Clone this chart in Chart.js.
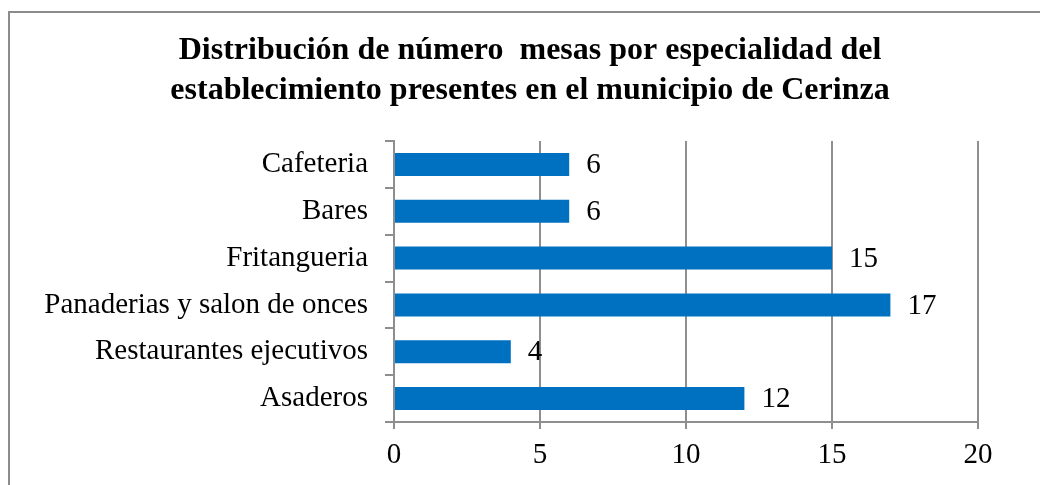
<!DOCTYPE html>
<html>
<head>
<meta charset="utf-8">
<script src="https://cdn.jsdelivr.net/npm/chart.js@4/dist/chart.umd.min.js"></script>
<style>
  html, body { margin: 0; padding: 0; background: #ffffff; }
  #wrap { position: relative; width: 1040px; height: 485px; }
</style>
</head>
<body>
<div id="wrap"><canvas id="c" width="1040" height="485"></canvas></div>
<script>
const categories = ['Cafeteria', 'Bares', 'Fritangueria', 'Panaderias y salon de onces', 'Restaurantes ejecutivos', 'Asaderos'];
const values = [6, 6, 15, 17, 4, 12];
const titleLines = ['Distribución de número  mesas por especialidad del', 'establecimiento presentes en el municipio de Cerinza'];
const xTicks = [0, 5, 10, 15, 20];

const FONT = "'Liberation Serif', 'Times New Roman', serif";
const GRID = '#8e8e8e';

const framePlugin = {
  id: 'frame',
  beforeDraw(chart) {
    const ctx = chart.ctx;
    ctx.save();
    ctx.fillStyle = '#ffffff';
    ctx.fillRect(0, 0, chart.width, chart.height);
    ctx.strokeStyle = '#8c8c8c';
    ctx.lineWidth = 2;
    ctx.beginPath();
    ctx.moveTo(9, 485);
    ctx.lineTo(9, 12);
    ctx.lineTo(1040, 12);
    ctx.stroke();
    ctx.restore();
  },
  afterDraw(chart) {
    const ctx = chart.ctx;
    ctx.save();
    ctx.fillStyle = '#000000';
    ctx.font = 'bold 32px ' + FONT;
    ctx.textAlign = 'center';
    ctx.textBaseline = 'middle';
    titleLines.forEach((t, i) => ctx.fillText(t, 530, 51 + i * 40));
    ctx.restore();
  }
};

const valueLabels = {
  id: 'valueLabels',
  afterDatasetsDraw(chart) {
    const ctx = chart.ctx;
    const meta = chart.getDatasetMeta(0);
    ctx.save();
    ctx.fillStyle = '#000000';
    ctx.font = '29px ' + FONT;
    ctx.textAlign = 'left';
    ctx.textBaseline = 'middle';
    meta.data.forEach((bar, i) => {
      ctx.fillText(String(values[i]), bar.x + 17, bar.y + 1);
    });
    ctx.restore();
  }
};

new Chart(document.getElementById('c'), {
  type: 'bar',
  data: {
    labels: categories,
    datasets: [{
      data: values,
      backgroundColor: '#0070C0',
      borderWidth: 0,
      barPercentage: 0.49,
      categoryPercentage: 1.0
    }]
  },
  plugins: [framePlugin, valueLabels],
  options: {
    indexAxis: 'y',
    responsive: false,
    animation: false,
    devicePixelRatio: 1,
    layout: { padding: { top: 141, right: 62, bottom: 0, left: 0 } },
    plugins: {
      legend: { display: false },
      title: { display: false },
      tooltip: { enabled: false }
    },
    scales: {
      x: {
        type: 'linear',
        min: 0,
        max: 20,
        afterBuildTicks(scale) { scale.ticks = xTicks.map(v => ({ value: v })); },
        afterFit(scale) { scale.height = 63; },
        grid: {
          color: GRID,
          lineWidth: 2,
          drawTicks: true,
          tickLength: 7,
          tickColor: GRID
        },
        border: { display: true, color: GRID, width: 2 },
        ticks: {
          color: '#000000',
          font: { family: FONT, size: 29 },
          padding: 9,
          maxRotation: 0
        }
      },
      y: {
        afterFit(scale) { scale.width = 394; },
        grid: {
          drawOnChartArea: false,
          drawTicks: true,
          tickLength: 9,
          color: GRID,
          lineWidth: 2,
          offset: true
        },
        border: { display: true, color: GRID, width: 2 },
        ticks: {
          color: '#000000',
          font: { family: FONT, size: 29 },
          padding: 17
        }
      }
    }
  }
});
</script>
</body>
</html>
